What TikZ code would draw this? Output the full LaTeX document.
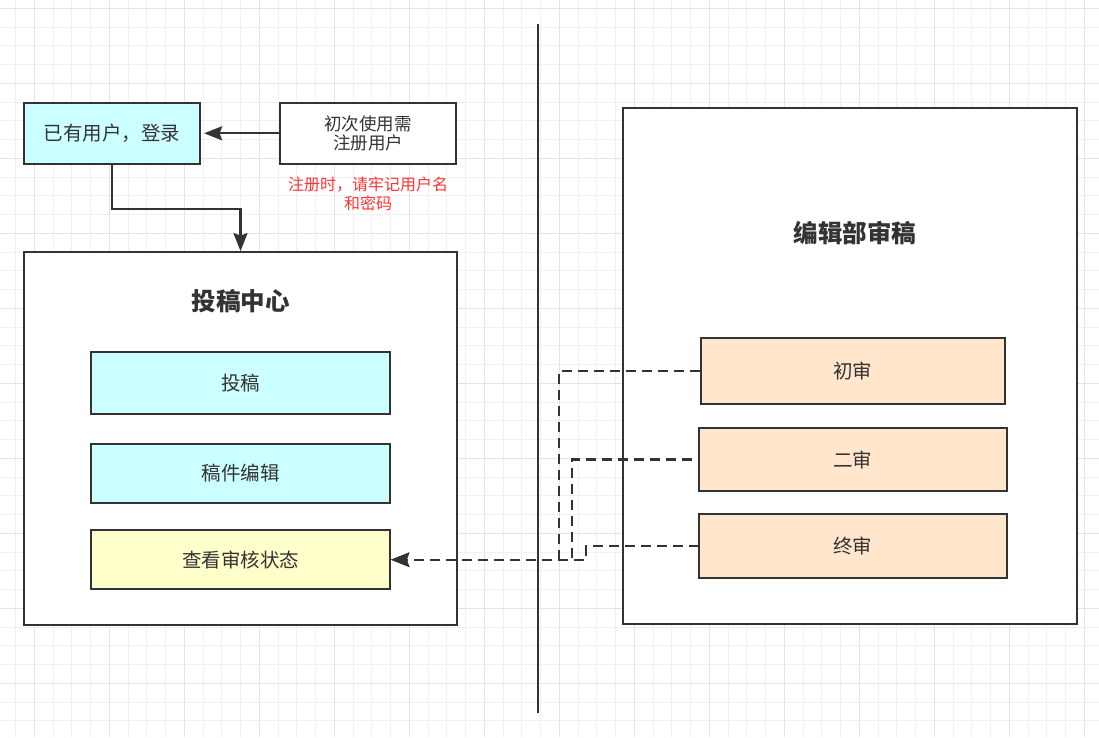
\documentclass[tikz,border=0pt]{standalone}
\usepackage{fontspec}
\setmainfont{Noto Sans CJK SC}
\usetikzlibrary{arrows.meta}

\definecolor{linegray}{HTML}{333333}
\definecolor{gridminor}{HTML}{F1F1F1}
\definecolor{gridmajor}{HTML}{E4E4E4}
\definecolor{cyanfill}{HTML}{CCFFFF}
\definecolor{yellowfill}{HTML}{FFFFCC}
\definecolor{peachfill}{HTML}{FFE6CC}
\definecolor{notered}{HTML}{FF3333}

\begin{document}
\begin{tikzpicture}[x = 1pt, y = -1pt,
	> = {Stealth[length = 18pt, width = 14pt, inset = 2.5pt]},
	box/.style = {draw = linegray, line width = 2.2pt, inner sep = 0pt, align = center,
		text = linegray, font = \fontsize{19.5}{22}\selectfont},
	conn/.style = {draw = linegray, line width = 2.2pt, ->},
	dconn/.style = {conn, dash pattern = on 10pt off 6pt}]

	\useasboundingbox (0, 0) rectangle (1099, 737);

	% Background grid

	\fill [white] (0, 0) rectangle (1099, 737);
	\foreach \k in {0, ..., 58}
		\draw [gridminor, line width = 1pt] ({15.55 + 18.75 * \k}, 0) -- ({15.55 + 18.75 * \k}, 737);
	\foreach \k in {0, ..., 39}
		\draw [gridminor, line width = 1pt] (0, {8.3 + 18.75 * \k}) -- (1099, {8.3 + 18.75 * \k});
	\foreach \k in {0, ..., 14}
		\draw [gridmajor, line width = 1pt] ({34.3 + 75 * \k}, 0) -- ({34.3 + 75 * \k}, 737);
	\foreach \k in {0, ..., 9}
		\draw [gridmajor, line width = 1pt] (0, {8.3 + 75 * \k}) -- (1099, {8.3 + 75 * \k});

	% Login and registration

	\node [box, fill = cyanfill, minimum width = 176pt, minimum height = 61pt] (login) at (112, 133.3) {已有用户，登录};
	\node [box, fill = white, minimum width = 176pt, minimum height = 61pt,
		font = \fontsize{17.5}{18.5}\selectfont] (register) at (368, 133.3) {初次使用需\\注册用户};
	\node [text = notered, align = center, font = \fontsize{16}{19}\selectfont] (note) at (368, 193.5)
		{注册时，请牢记用户名\\和密码};

	% Submission centre

	\node [box, fill = white, minimum width = 433pt, minimum height = 373pt] (centre) at (240.5, 438.7) {};
	\node [text = linegray, font = \fontsize{24.5}{28}\selectfont\bfseries] (centretitle) at (240.5, 300.7) {投稿中心};
	\node [box, fill = cyanfill, minimum width = 299pt, minimum height = 62pt] (submit) at (240.5, 383.3) {投稿};
	\node [box, fill = cyanfill, minimum width = 299pt, minimum height = 58.4pt] (edit) at (240.5, 473.5) {稿件编辑};
	\node [box, fill = yellowfill, minimum width = 299pt, minimum height = 59.3pt] (status) at (240.5, 559.7) {查看审核状态};

	% Divider

	\draw [linegray, line width = 2.2pt] (538.3, 24.3) -- (538.3, 713.3);

	% Editorial review

	\node [box, fill = white, minimum width = 454pt, minimum height = 516pt] (review) at (850, 366.2) {};
	\node [text = linegray, font = \fontsize{24.5}{28}\selectfont\bfseries] (reviewtitle) at (855, 233.3) {编辑部审稿};
	\node [box, fill = peachfill, minimum width = 304.3pt, minimum height = 66pt] (first) at (852.9, 371.3) {初审};
	\node [box, fill = peachfill, minimum width = 307.7pt, minimum height = 62.4pt] (second) at (852.9, 459.5) {二审};
	\node [box, fill = peachfill, minimum width = 307.7pt, minimum height = 64pt] (final) at (852.9, 546.3) {终审};

	% Connectors (dash phases keep the shared bottom run in step)

	\draw [conn, shorten > = 3pt] (register.west) -- (login.east);
	\draw [conn] (login.south) -- ++(0, 44) -| (centre.north);
	\draw [dconn] (first.west) -- ++(-141, 0) |- (status.east);
	\draw [dconn, dash phase = 9.9pt] (second.west) -- ++(-126, 0) |- (status.east);
	\draw [dconn, dash phase = 0.7pt] (final.west) -- ++(-112, 0) |- (status.east);

\end{tikzpicture}
\end{document}
